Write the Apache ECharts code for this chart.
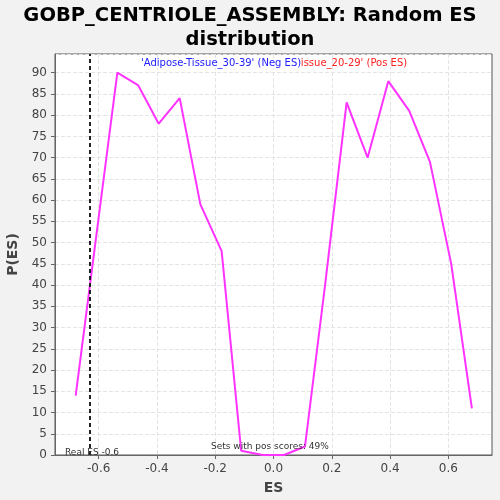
<!DOCTYPE html>
<html>
<head>
<meta charset="utf-8">
<script src="https://cdn.jsdelivr.net/npm/echarts@6/dist/echarts.min.js"></script>
<style>
  html, body { margin: 0; padding: 0; background: #f2f2f2; }
  #chart { width: 500px; height: 500px; }
</style>
</head>
<body>
<div id="chart"></div>
<script>
// values
var esValues = [-0.679, -0.536, -0.464, -0.394, -0.322, -0.251, -0.178, -0.111, -0.037, 0.036, 0.108, 0.177, 0.251, 0.323, 0.394, 0.466, 0.537, 0.610, 0.681];
var pValues = [14, 90, 87, 78, 84, 59, 48, 1, 0, 0, 2, 40, 83, 70, 88, 81, 69, 45, 11];
var xTicks = [-0.6, -0.4, -0.2, 0.0, 0.2, 0.4, 0.6];
var realES = -0.628;

var seriesData = [];
for (var i = 0; i < esValues.length; i++) {
    seriesData.push([esValues[i], pValues[i]]);
}

var myChart = echarts.init(document.getElementById('chart'));

var options = {
    backgroundColor: '#f2f2f2',
    animation: false,
    textStyle: { fontFamily: 'DejaVu Sans' },
    title: {
        text: 'GOBP_CENTRIOLE_ASSEMBLY: Random ES\ndistribution',
        left: 'center',
        top: -1,
        textStyle: {
            fontFamily: 'DejaVu Sans',
            fontWeight: 'bold',
            fontSize: 19.5,
            lineHeight: 24,
            color: '#000'
        }
    },
    grid: {
        left: 55,
        right: 8,
        top: 54,
        bottom: 45,
        outerBoundsMode: 'none',
        containLabel: false,
        show: true,
        backgroundColor: '#fff',
        borderColor: '#555',
        borderWidth: 1
    },
    xAxis: {
        type: 'value',
        min: -0.75,
        max: 0.75,
        name: 'ES',
        nameLocation: 'middle',
        nameGap: 26,
        nameTextStyle: { fontWeight: 'bold', fontSize: 14, color: '#444' },
        axisLine: { show: true, onZero: false, lineStyle: { color: '#666' } },
        axisTick: { show: true, customValues: xTicks, length: 4, lineStyle: { color: '#666' } },
        axisLabel: {
            customValues: xTicks,
            fontSize: 12,
            color: '#444',
            formatter: function (v) { return v.toFixed(1); }
        },
        splitLine: { show: true, lineStyle: { color: '#e4e4e4', type: 'dashed' } }
    },
    yAxis: {
        type: 'value',
        min: 0,
        max: 94.4,
        interval: 5,
        name: 'P(ES)',
        nameLocation: 'middle',
        nameGap: 29,
        nameTextStyle: { fontWeight: 'bold', fontSize: 14, color: '#444' },
        axisLine: { show: true, onZero: false, lineStyle: { color: '#666' } },
        axisTick: { show: true, length: 4, lineStyle: { color: '#666' } },
        axisLabel: { fontSize: 12, color: '#444', showMaxLabel: false },
        splitLine: { show: true, lineStyle: { color: '#e4e4e4', type: 'dashed' } }
    },
    series: [
        {
            type: 'line',
            data: seriesData,
            symbol: 'none',
            lineStyle: { color: '#ff33ff', width: 2 },
            markLine: {
                silent: true,
                symbol: 'none',
                label: { show: false },
                lineStyle: { color: '#222', type: [4, 3], width: 2 },
                data: [{ xAxis: realES }]
            }
        }
    ],
    graphic: [
        {
            type: 'text',
            left: 250,
            top: 58,
            z: 10,
            style: {
                text: "'Adipose-Tissue_20-29' (Pos ES)",
                fontFamily: 'DejaVu Sans',
                fontSize: 10,
                fill: '#ff2020'
            }
        },
        {
            type: 'text',
            left: 141,
            top: 58,
            z: 11,
            style: {
                text: "'Adipose-Tissue_30-39' (Neg ES)",
                fontFamily: 'DejaVu Sans',
                fontSize: 10,
                fill: '#2020ff',
                backgroundColor: '#fff'
            }
        },
        {
            type: 'text',
            left: 211,
            top: 442,
            z: 10,
            style: {
                text: 'Sets with pos scores: 49%',
                fontFamily: 'DejaVu Sans',
                fontSize: 9,
                fill: '#333'
            }
        },
        {
            type: 'text',
            left: 65,
            top: 448,
            z: 10,
            style: {
                text: 'Real ES -0.6',
                fontFamily: 'DejaVu Sans',
                fontSize: 9,
                fill: '#333'
            }
        }
    ]
};

myChart.setOption(options);
</script>
</body>
</html>
